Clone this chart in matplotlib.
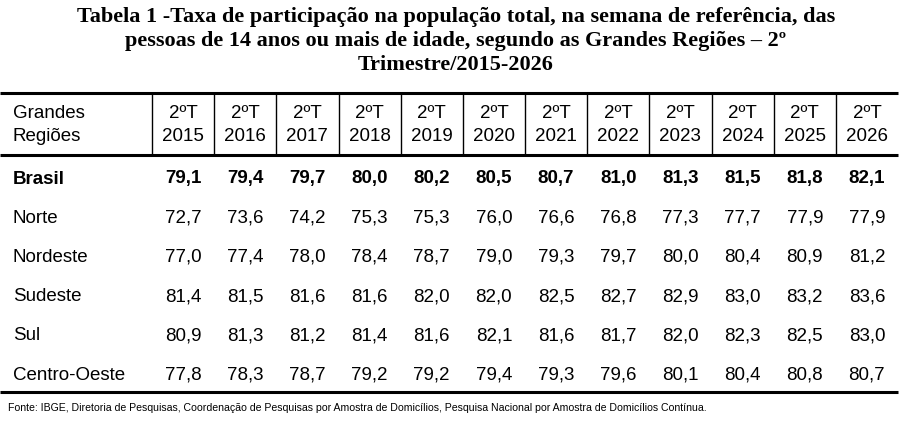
import matplotlib
matplotlib.use("Agg")
import matplotlib.pyplot as plt

# Dados da tabela
titulo = ["Tabela 1 -Taxa de participação na população total, na semana de referência, das",
          "pessoas de 14 anos ou mais de idade, segundo as Grandes Regiões – 2º",
          "Trimestre/2015-2026"]
anos = ["2015", "2016", "2017", "2018", "2019", "2020",
        "2021", "2022", "2023", "2024", "2025", "2026"]
regioes = ["Brasil", "Norte", "Nordeste", "Sudeste", "Sul", "Centro-Oeste"]

brasil = [79.1, 79.4, 79.7, 80.0, 80.2, 80.5, 80.7, 81.0, 81.3, 81.5, 81.8, 82.1]
norte = [72.7, 73.6, 74.2, 75.3, 75.3, 76.0, 76.6, 76.8, 77.3, 77.7, 77.9, 77.9]
nordeste = [77.0, 77.4, 78.0, 78.4, 78.7, 79.0, 79.3, 79.7, 80.0, 80.4, 80.9, 81.2]
sudeste = [81.4, 81.5, 81.6, 81.6, 82.0, 82.0, 82.5, 82.7, 82.9, 83.0, 83.2, 83.6]
sul = [80.9, 81.3, 81.2, 81.4, 81.6, 82.1, 81.6, 81.7, 82.0, 82.3, 82.5, 83.0]
centro_oeste = [77.8, 78.3, 78.7, 79.2, 79.2, 79.4, 79.3, 79.6, 80.1, 80.4, 80.8, 80.7]
valores = [brasil, norte, nordeste, sudeste, sul, centro_oeste]

fonte = ("Fonte: IBGE, Diretoria de Pesquisas, Coordenação de Pesquisas por Amostra de "
         "Domicílios, Pesquisa Nacional por Amostra de Domicílios Contínua.")

# Figura em coordenadas de pixel
fig = plt.figure(figsize=(9.13, 4.30), dpi=100)
ax = fig.add_axes([0, 0, 1, 1])
ax.set_xlim(0, 913)
ax.set_ylim(430, 0)
ax.axis("off")

sans = "Liberation Sans"
fs = 13.5

# titulo, uma linha de cada vez
for k, linha in enumerate(titulo):
    ax.text(456, 22 + k * 24, linha, ha="center", va="baseline", fontsize=16,
            fontweight="bold", family="Liberation Serif")

# linhas da tabela
x0, x1 = 0, 898
col0 = 152
colw = (x1 - col0) / len(anos)
y_top, y_head, y_bot = 93, 155, 392
for yl in (y_top, y_head, y_bot):
    ax.plot([x0, x1], [yl, yl], color="black", lw=2.2, solid_capstyle="butt")
for i in range(len(anos)):
    xv = col0 + i * colw
    ax.plot([xv, xv], [y_top, y_head], color="black", lw=1.0)

# cabecalho
ax.text(13, 118, "Grandes", ha="left", va="baseline", fontsize=fs, family=sans)
ax.text(13, 141, "Regiões", ha="left", va="baseline", fontsize=fs, family=sans)
for i, ano in enumerate(anos):
    xc = col0 + (i + 0.5) * colw
    ax.text(xc, 118, "2ºT", ha="center", va="baseline", fontsize=fs, family=sans)
    ax.text(xc, 141, ano, ha="center", va="baseline", fontsize=fs, family=sans)

# linhas de dados
row_y0, row_h = 183.5, 39.2
for r, (reg, vals) in enumerate(zip(regioes, valores)):
    y = row_y0 + r * row_h
    peso = "bold" if reg == "Brasil" else "normal"
    ax.text(13, y, reg, ha="left", va="baseline", fontsize=fs,
            family=sans, fontweight=peso)
    for i, v in enumerate(vals):
        xc = col0 + (i + 0.5) * colw
        ax.text(xc, y, f"{v:.1f}".replace(".", ","), ha="center", va="baseline",
                fontsize=fs, family=sans, fontweight=peso)

# fonte
ax.text(8, 408, fonte, ha="left", va="center", fontsize=7.55, family=sans)

fig.savefig("out.png", dpi=100)
